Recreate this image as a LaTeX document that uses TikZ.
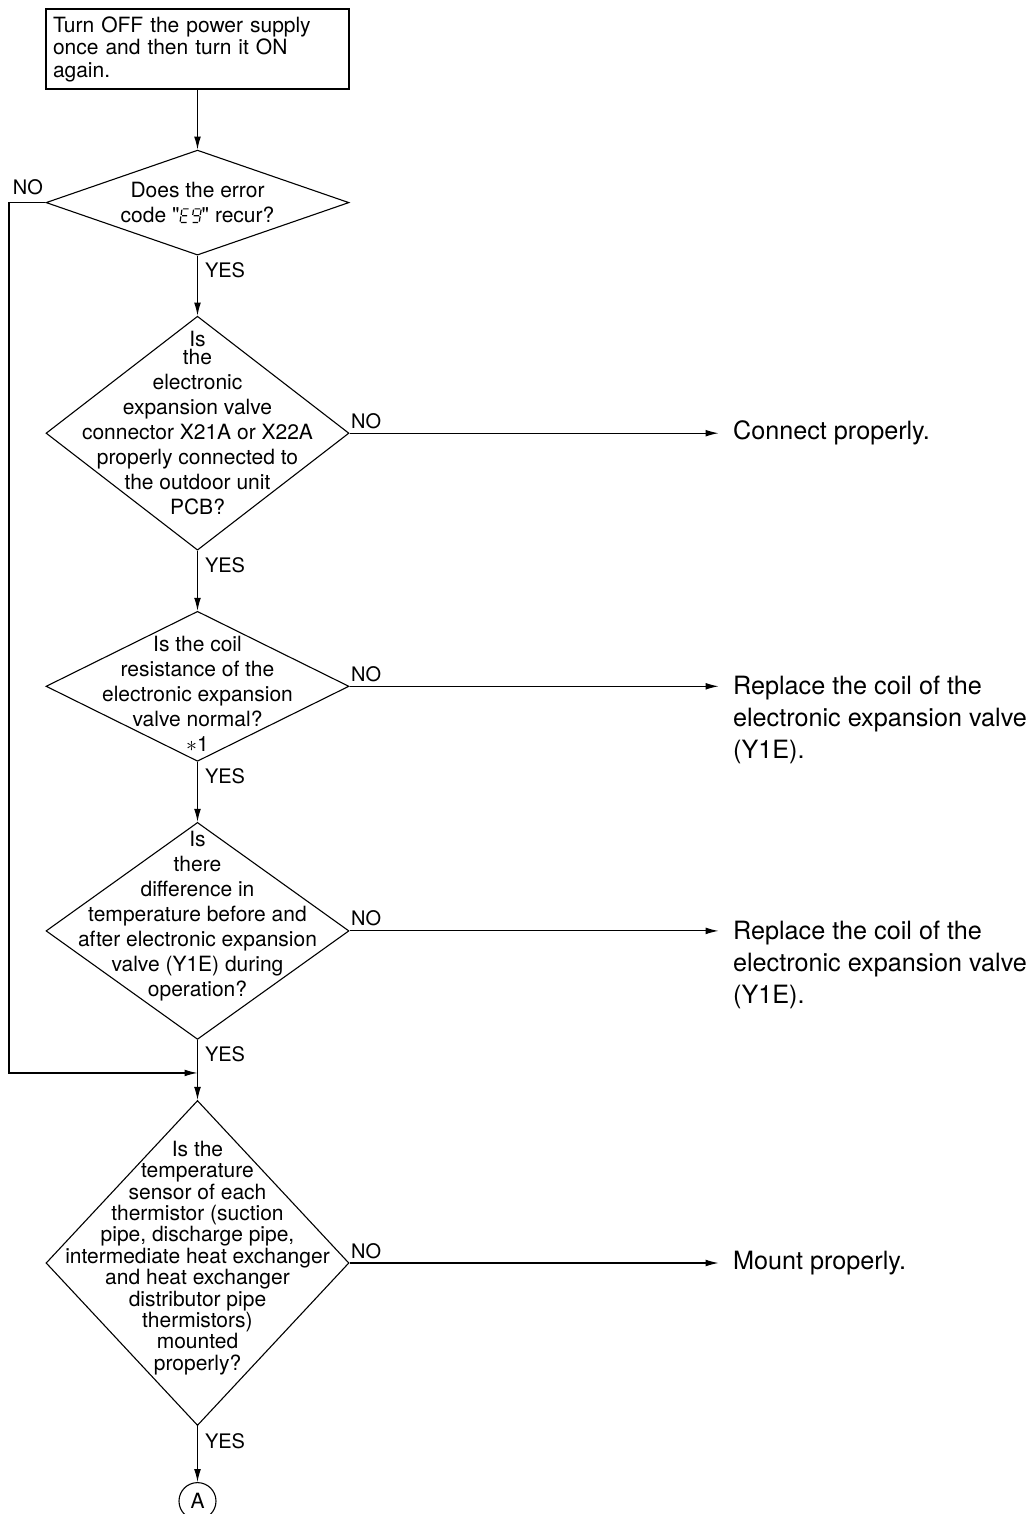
\documentclass[tikz,border=0pt]{standalone}
\usepackage{fontspec}
\setmainfont{TeX Gyre Heros}[Ligatures=TeXOff]
\usepackage{tikz}
\usetikzlibrary{positioning,shapes.geometric,arrows.meta}

\newcommand{\segEnine}{\tikz[baseline=0pt, x=1pt, y=1pt, line width=0.6pt, xslant=0.15]{%
  \draw (0.5,6.8)--(3.3,6.8) (0.5,3.4)--(3.0,3.4) (0.5,0)--(3.3,0) (0,0.4)--(0,3.0) (0,3.8)--(0,6.4);
  \draw (6.3,6.8)--(9.1,6.8) (6.3,3.4)--(9.1,3.4) (6.3,0)--(9.1,0) (5.8,3.8)--(5.8,6.4) (9.6,3.8)--(9.6,6.4) (9.6,0.4)--(9.6,3.0);}}

\tikzset{
  startbox/.style={draw, rectangle, minimum width=151.5pt, minimum height=40pt, text width=144.5pt,
    inner xsep=3.5pt, inner ysep=0pt, align=left, font=\fontsize{10.5pt}{11.25pt}\selectfont},
  decision/.style={draw, diamond, minimum width=151.5pt, inner sep=0pt},
  qtext/.style={align=center, inner sep=0pt, font=\fontsize{10.5pt}{12.5pt}\selectfont},
  result/.style={align=left, inner sep=0pt, font=\fontsize{12.6pt}{16pt}\selectfont},
  answer/.style={inner sep=0pt, font=\fontsize{10pt}{12pt}\selectfont},
  connector/.style={draw, circle, minimum size=18.5pt, inner sep=0pt, font=\fontsize{10.5pt}{12pt}\selectfont},
}

\begin{document}
\begin{tikzpicture}[>={Latex[length=6.5pt,width=3.4pt]}, node distance=30pt, line width=0.55pt]
	\useasboundingbox (0,0) rectangle (514pt,-757pt);
	\node[startbox] (start) at (98.75pt,-24.5pt)
	{Turn OFF the power supply\\once and then turn it ON\\again.};
	\node[decision, minimum height=52.5pt, below=of start] (q1) {};
	\node[decision, minimum height=117pt, below=of q1] (q2) {};
	\node[decision, minimum height=75pt, below=of q2] (q3) {};
	\node[decision, minimum height=108.5pt, below=of q3] (q4) {};
	\node[decision, minimum height=162.5pt, below=of q4] (q5) {};
	\node[connector, below=28pt of q5] (a) {A};

	\node[qtext] (q1-text) at (q1) {Does the error\\code "\segEnine" recur?};
	\node[qtext] (q2-text) at ([yshift=5pt]q2)
	{Is\\[-3.5pt]the\\electronic\\expansion valve\\connector X21A or X22A\\properly connected to\\the outdoor unit\\PCB?};
	\node[qtext] (q3-text) at ([yshift=-4pt]q3)
	{Is the coil\\resistance of the\\electronic expansion\\valve normal?\\$\ast$1};
	\node[qtext] (q4-text) at ([yshift=7.5pt]q4)
	{Is\\there\\difference in\\temperature before and\\after electronic expansion\\valve (Y1E) during\\operation?};
	\node[qtext, font=\fontsize{10.5pt}{10.7pt}\selectfont] (q5-text) at ([yshift=2.5pt]q5)
	{Is the\\temperature\\sensor of each\\thermistor (suction\\pipe, discharge pipe,\\intermediate heat exchanger\\and heat exchanger\\distributor pipe\\thermistors)\\mounted\\properly?};

	\node[result, right=191.5pt of q2] (r2) {Connect properly.};
	\node[result, right=191.5pt of q3, yshift=-17pt] (r3)
	{Replace the coil of the\\electronic expansion valve\\(Y1E).};
	\node[result, right=191.5pt of q4, yshift=-17pt] (r4)
	{Replace the coil of the\\electronic expansion valve\\(Y1E).};
	\node[result, right=191.5pt of q5] (r5) {Mount properly.};

	\coordinate (rail) at (4.5pt,0);
	\coordinate (merge) at ([yshift=-16.5pt]q4.south);

	\draw[->] (start) -- (q1);
	\draw[->] (q1) -- (q2);
	\draw[->] (q2) -- (q3);
	\draw[->] (q3) -- (q4);
	\draw[->] (q4) -- (q5);
	\draw[->] (q5) -- (a);
	\draw[->] (q1.west) -- (q1.west -| rail) |- (merge);
	\foreach \q in {q2,q3,q4,q5}
		\draw[->, shorten >=7pt] (\q.east) -- (\q.east -| r2.west);

	\node[answer, anchor=south east] (no-q1) at ([xshift=-1pt,yshift=3.5pt]q1.west) {NO};
	\foreach \q in {q2,q3,q4,q5}
		\node[answer, anchor=south west] (no-\q) at ([xshift=0.5pt,yshift=2pt]\q.east) {NO};
	\foreach \q in {q1,q2,q3,q4,q5}
		\node[answer, anchor=north west] (yes-\q) at ([xshift=3.5pt,yshift=-3.25pt]\q.south) {YES};
\end{tikzpicture}
\end{document}
